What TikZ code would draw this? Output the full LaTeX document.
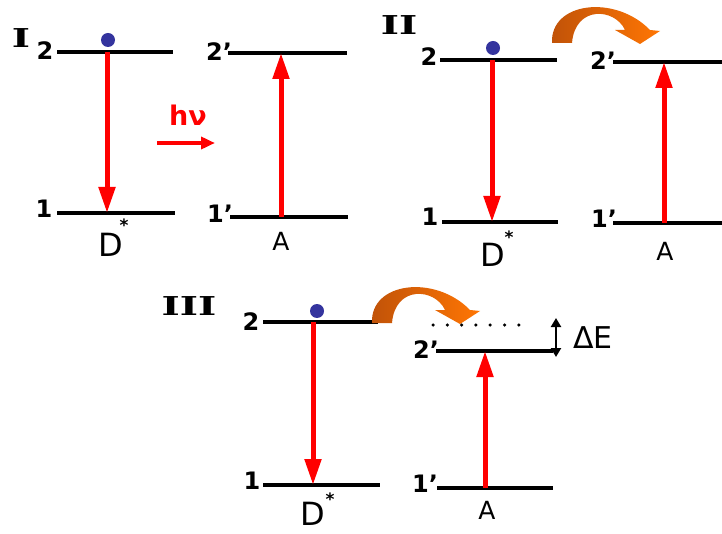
\documentclass[tikz,border=0pt]{standalone}
\usepackage{fontspec}
\usepackage{graphicx}
\setmainfont{DejaVu Sans}
\newfontfamily\romfont{DejaVu Serif}
\usetikzlibrary{arrows.meta}
\definecolor{dotblue}{RGB}{52,52,158}
\definecolor{orangedark}{RGB}{192,82,8}
\definecolor{orangelight}{RGB}{255,118,4}
\tikzset{
    level/.style={line width=3.6pt},
    trans/.style={red,line width=5pt,-{Triangle[length=26pt,width=16pt]}},
    digit/.style={inner sep=0pt,font=\fontsize{24}{24}\selectfont\bfseries},
    species/.style={inner sep=0pt,font=\fontsize{#1}{#1}\selectfont},
    star/.style={inner sep=0pt,anchor=north,font=\fontsize{17}{17}\selectfont\bfseries},
    panel/.style={inner sep=0pt,font=\fontsize{26}{26}\selectfont\romfont\bfseries}
}
\begin{document}
\begin{tikzpicture}[x=1pt,y=-1pt]
\useasboundingbox (0,0) rectangle (722,534);
% energy levels
\draw[level] (57,52)--(173,52);
\draw[level] (57,213)--(175,213);
\draw[level] (228,53)--(347,53);
\draw[level] (230,217)--(348,217);
\draw[level] (440,60)--(557,60);
\draw[level] (442,222)--(558,222);
\draw[level] (613,62)--(722,62);
\draw[level] (613,223)--(722,223);
\draw[level] (263,322)--(378,322);
\draw[level] (263,485)--(380,485);
\draw[level] (436,351)--(553,351);
\draw[level] (437,488)--(553,488);
% transitions
\coordinate (Ihi) at (107,52);
\coordinate (Ilo) at (107,213);
\coordinate (IAlo) at (281,217);
\coordinate (IAhi) at (281,53);
\coordinate (IIhi) at (492,60);
\coordinate (IIlo) at (492,222);
\coordinate (IIAlo) at (664,223);
\coordinate (IIAhi) at (664,62);
\coordinate (IIIhi) at (313,322);
\coordinate (IIIlo) at (313,485);
\coordinate (IIIAlo) at (485,488);
\coordinate (IIIAhi) at (485,351);
\draw[trans] (Ihi)--(Ilo);
\draw[trans] (IAlo)--(IAhi);
\draw[trans] (IIhi)--(IIlo);
\draw[trans] (IIAlo)--(IIAhi);
\draw[trans] (IIIhi)--(IIIlo);
\draw[trans] (IIIAlo)--(IIIAhi);
% excited electrons
\foreach \x/\y in {108/40, 493/48, 317/311}
{
    \fill[dotblue] (\x,\y) circle (7pt);
}
% photon
\node[inner sep=0pt,red,font=\fontsize{27}{27}\selectfont\bfseries] (hnu) at (188,115) {hν};
\coordinate (hnuL) at (157,143);
\coordinate (hnuR) at (215,143);
\draw[red,line width=4pt,-{Triangle[length=14pt,width=12pt]}] (hnuL)--(hnuR);
% energy transfer
\foreach \dx/\dy in {0/0, -180/280}
{
    \begin{scope}[shift={(\dx,\dy)}]
    \shade[left color=orangedark,right color=orangelight]
        (552,43) .. controls (550,2) and (615,-6) .. (650,30)
        -- (660,31) -- (640,44) -- (615,30) -- (625,30)
        .. controls (615,8) and (575,5) .. (572,43) -- cycle;
    \end{scope}
}
% mismatch
\draw[line width=3.5pt,line cap=round,dash pattern=on 0pt off 14.3pt] (433,325)--(533,325);
\coordinate (dEtop) at (556,318);
\coordinate (dEbot) at (556,357);
\draw[line width=2.2pt,{Triangle[length=9pt,width=10pt]}-{Triangle[length=9pt,width=10pt]}] (dEtop)--(dEbot);
\node[species=30] (dE) at (593,338) {ΔE};
% labels
\node[panel] (pI) at (21,38) {\scalebox{1.5}[1]{I}};
\node[panel] (pII) at (399,25) {\scalebox{1.5}[1]{II}};
\node[panel] (pIII) at (189,306) {\scalebox{1.5}[1]{III}};
\node[digit] (I2) at (45,51) {2};
\node[digit] (I1) at (44,209) {1};
\node[digit] (IA2) at (219,52) {2'};
\node[digit] (IA1) at (220,214) {1'};
\node[digit] (II2) at (429,57) {2};
\node[digit] (II1) at (430,217) {1};
\node[digit] (IIA2) at (603,61) {2'};
\node[digit] (IIA1) at (604,219) {1'};
\node[digit] (III2) at (251,322) {2};
\node[digit] (III1) at (252,481) {1};
\node[digit] (IIIA2) at (426,350) {2'};
\node[digit] (IIIA1) at (425,484) {1'};
\node[species=32] (ID) at (111,245) {D};
\node[star] (Is) at (124,219) {*};
\node[species=25] (IA) at (281,241) {A};
\node[species=32] (IID) at (493,255) {D};
\node[star] (IIs) at (509,231) {*};
\node[species=25] (IIA) at (665,251) {A};
\node[species=32] (IIID) at (313,514) {D};
\node[star] (IIIs) at (330,493) {*};
\node[species=25] (IIIA) at (487,510) {A};
\end{tikzpicture}
\end{document}
